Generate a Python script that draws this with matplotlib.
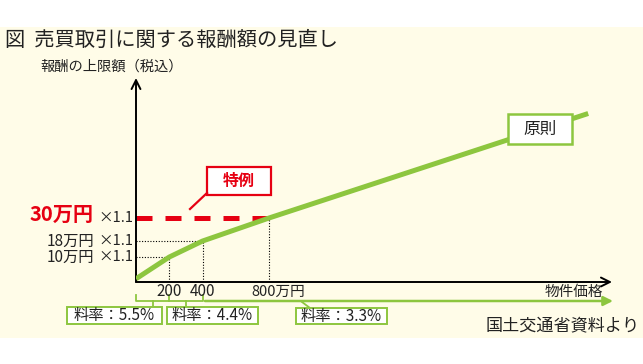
import matplotlib.pyplot as plt
from matplotlib.patches import Rectangle
from matplotlib.transforms import Affine2D, blended_transform_factory

plt.rcParams['font.family'] = ['Noto Sans CJK JP', 'DejaVu Sans']

W, H = 643, 364

# 原則 line: price (万円) vs fee cap (schematic units)
price = [0, 200, 400, 800, 2720]
fee = [1.5, 11.7, 19.2, 30, 79]
special_fee = 30
special_limit = 800
tick_prices = [200, 400]
tick_labels = ['200', '400']
level_labels = ['10万円', '18万円']
rate_labels = ['料率：5.5%', '料率：4.4%', '料率：3.3%']

GREEN = '#8DC63F'
RED = '#E60012'
CREAM = '#FFFCE8'
INK = '#222222'

fig = plt.figure(figsize=(W / 100, H / 100), dpi=100)
# reference-pixel coordinates (origin top-left)
pix = Affine2D().scale(1 / W, -1 / H).translate(0, 1) + fig.transFigure

fig.add_artist(Rectangle((0, 27), W, 311, transform=pix, facecolor=CREAM,
                         edgecolor='none', zorder=0))

ax = fig.add_axes([136 / W, 1 - 282 / H, (612 - 136) / W, (282 - 78) / H])
ax.set_xlim(0, (612 - 136) / 0.16625)
ax.set_ylim(0, (282 - 78) / 2.133)
ax.axis('off')

xd_py = blended_transform_factory(ax.transData, pix)
px_yd = blended_transform_factory(pix, ax.transData)

# axes arrows
arrow_kw = dict(arrowstyle='->', lw=1.4, color='black', mutation_scale=16,
                shrinkA=0, shrinkB=0)
ax.annotate('', xy=(0, 1), xytext=(0, 0), xycoords='axes fraction',
            arrowprops=arrow_kw, annotation_clip=False)
ax.annotate('', xy=(1, 0), xytext=(0, 0), xycoords='axes fraction',
            arrowprops=arrow_kw, annotation_clip=False)

# guide dots
dot_kw = dict(color='black', lw=0.8, ls=(0, (1, 1.5)), zorder=1)
ax.plot([0, price[1]], [fee[1], fee[1]], **dot_kw)
ax.plot([0, price[2]], [fee[2], fee[2]], **dot_kw)
for i in (1, 2, 3):
    ax.plot([price[i], price[i]], [0, fee[i]], **dot_kw)

ax.plot([0, special_limit], [special_fee, special_fee], color=RED, lw=3.6,
        dashes=(3.2, 2.6), zorder=2)
ax.plot(price, fee, color=GREEN, lw=3.6, solid_capstyle='butt', zorder=3)

# x tick labels
for x, lab in zip(tick_prices, tick_labels):
    ax.text(x, 292, lab, transform=xd_py, ha='center', va='center',
            fontsize=11, color=INK)
ax.annotate(f'{special_limit}万円', xy=(special_limit, 292), xycoords=xd_py,
            xytext=(-18, 0), textcoords='offset pixels', ha='left',
            va='center', fontsize=10.5, color=INK)

# y level labels
for y, lab in zip(fee[1:3], level_labels):
    ax.text(94, y, lab, transform=px_yd, ha='right', va='center',
            fontsize=11, color=INK)
for y in (fee[1], fee[2], special_fee):
    ax.text(133, y, '×1.1', transform=px_yd, ha='right', va='center',
            fontsize=10.5, color=INK)
ax.text(94, special_fee + 1.5, '30万円', transform=px_yd, ha='right',
        va='center', fontsize=14.5, color=RED, fontweight='bold')

# 特例 callout
fig.add_artist(Rectangle((207, 167), 64, 28, transform=pix, facecolor='white',
                         edgecolor=RED, lw=1.6, zorder=5))
fig.text(239, 181, '特例', transform=pix, ha='center', va='center',
         fontsize=11.5, color=RED, fontweight='bold', zorder=6)
fig.add_artist(plt.Line2D([207, 190], [193, 209], transform=pix, color=RED,
                          lw=1.6, zorder=5))

# 原則 callout
fig.add_artist(Rectangle((508, 114), 64, 30, transform=pix, facecolor='white',
                         edgecolor=GREEN, lw=1.8, zorder=5))
fig.text(540, 129, '原則', transform=pix, ha='center', va='center',
         fontsize=12, color=INK, zorder=6)

# rate brackets
br_kw = dict(color=GREEN, lw=1.3, transform=xd_py, clip_on=False)
ax.plot([0, 0, price[2], price[2]], [295, 301, 301, 295], **br_kw)
ax.plot([price[1], price[1]], [295, 301], **br_kw)
ax.plot([price[1] / 2, price[1] / 2], [301, 307], **br_kw)
ax.plot([(price[1] + price[2]) / 2] * 2, [301, 307], **br_kw)
ax.annotate('', xy=(613, 301), xytext=(205, 301), xycoords=pix, textcoords=pix,
            arrowprops=dict(arrowstyle='-|>', lw=1.8, color=GREEN,
                            mutation_scale=14, shrinkA=0, shrinkB=0),
            annotation_clip=False)
fig.add_artist(plt.Line2D([302, 310], [302, 308], transform=pix, color=GREEN,
                          lw=1.3))

boxes = [(67, 307, 95, 17), (167, 307, 91, 17), (296, 308, 91, 16)]
for (bx, by, bw, bh), lab in zip(boxes, rate_labels):
    fig.add_artist(Rectangle((bx, by), bw, bh, transform=pix, facecolor='white',
                             edgecolor=GREEN, lw=1.4, zorder=5))
    fig.text(bx + bw / 2, by + bh / 2, lab, transform=pix, ha='center',
             va='center', fontsize=11, color=INK, zorder=6)

fig.text(603, 292, '物件価格', transform=pix, ha='right', va='center',
         fontsize=10.5, color=INK)
fig.text(640, 325, '国土交通省資料より', transform=pix, ha='right', va='center',
         fontsize=12.3, color=INK)

fig.text(5, 40, '図  売買取引に関する報酬額の見直し', transform=pix, ha='left',
         va='center', fontsize=14.6, color=INK)
fig.text(40, 67, '報酬の上限額（税込）', transform=pix, ha='left', va='center',
         fontsize=10.3, color=INK)

fig.savefig('out.png', dpi=100)
